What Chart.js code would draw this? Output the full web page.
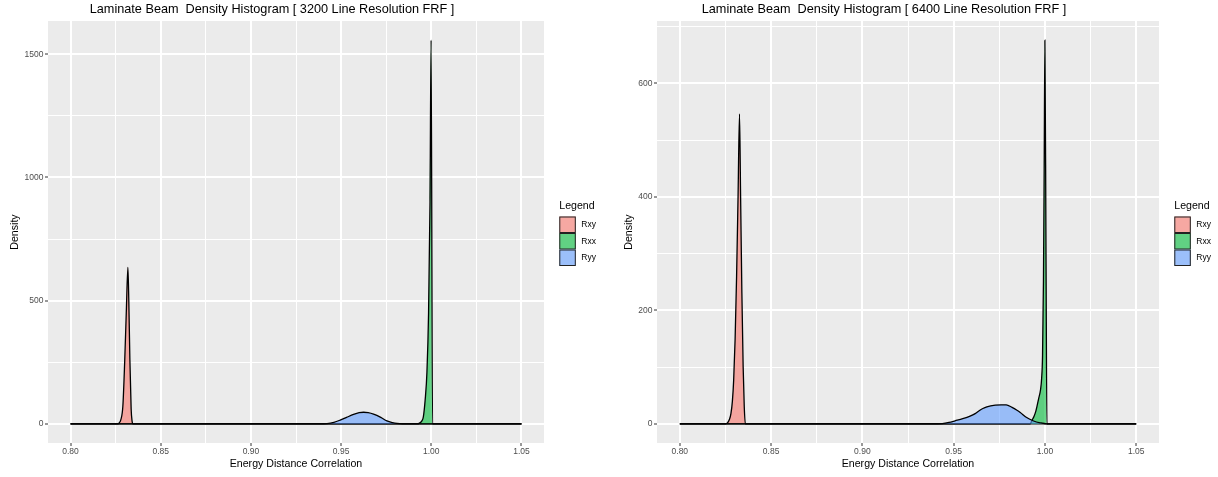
<!DOCTYPE html>
<html>
<head>
<meta charset="utf-8">
<script src="https://cdn.jsdelivr.net/npm/chart.js@4.4.1/dist/chart.umd.min.js"></script>
<style>
  html, body { margin: 0; padding: 0; background: #ffffff; }
  #wrap { position: relative; width: 1218px; height: 477px; }
  canvas { position: absolute; top: 0; }
</style>
</head>
<body>
<div id="wrap">
  <canvas id="density-3200" width="609" height="477" style="left:0px"></canvas>
  <canvas id="density-6400" width="609" height="477" style="left:609px"></canvas>
</div>
<script>
// Series names (legend order)
const seriesNames = ['Rxy', 'Rxx', 'Ryy'];

// Tick values
const xMajor = [0.80, 0.85, 0.90, 0.95, 1.00, 1.05];
const xMinor = [0.825, 0.875, 0.925, 0.975, 1.025];
const yMajor3200 = [0, 500, 1000, 1500];
const yMinor3200 = [250, 750, 1250];
const yMajor6400 = [0, 200, 400, 600];
const yMinor6400 = [100, 300, 500, 700];

// 3200 line resolution densities
const rxy3200X = [0.800, 0.8262, 0.8270, 0.8279, 0.8290, 0.8300, 0.8309, 0.8318, 0.8323, 0.8329, 0.8336, 0.8341, 0.8346, 1.050];
const rxy3200Y = [0, 0, 4, 17, 71, 248, 451, 635, 500, 260, 60, 12, 0, 0];
const rxx3200X = [0.800, 0.9920, 0.9935, 0.9948, 0.9956, 0.9966, 0.9976, 0.9985, 0.9993, 0.9999, 1.0007, 1.050];
const rxx3200Y = [0, 0, 3, 12, 28, 96, 210, 450, 900, 1557, 0, 0];
const ryy3200X = [0.800, 0.9380, 0.9422, 0.9460, 0.9495, 0.9530, 0.9569, 0.9600, 0.9625, 0.9650, 0.9680, 0.9720, 0.9754, 0.9785, 0.9810, 0.9840, 1.050];
const ryy3200Y = [0, 0, 1, 6, 15, 26, 38, 45, 47, 45, 39, 26, 12, 5, 1.5, 0, 0];

// 6400 line resolution densities
const rxy6400X = [0.800, 0.8250, 0.8262, 0.8272, 0.8280, 0.8288, 0.8295, 0.8303, 0.8311, 0.8319, 0.8327, 0.8333, 0.8340, 0.8347, 0.8353, 0.8359, 1.050];
const rxy6400Y = [0, 0, 2, 8, 18, 40, 77, 150, 260, 400, 546, 400, 230, 100, 30, 0, 0];
const rxx6400X = [0.800, 0.9920, 0.9929, 0.9940, 0.9950, 0.9956, 0.9966, 0.9976, 0.9982, 0.9987, 0.9992, 0.9996, 1.0000, 1.0006, 1.0011, 1.050];
const rxx6400Y = [0, 0, 6, 13, 22, 30, 45, 60, 80, 120, 250, 450, 676, 300, 0, 0];
const ryy6400X = [0.800, 0.9380, 0.9438, 0.9475, 0.9508, 0.9550, 0.9590, 0.9618, 0.9640, 0.9660, 0.9682, 0.9728, 0.9760, 0.9788, 0.9820, 0.9847, 0.9865, 0.9900, 0.9938, 0.9974, 1.0010, 1.050];
const ryy6400Y = [0, 0, 0.5, 2.5, 5.3, 9, 13.5, 18, 23, 27, 30, 33, 33.5, 33.5, 29, 24, 20, 11, 5, 1.8, 0, 0];

const fillColors = ['rgba(248,118,109,0.6)', 'rgba(0,186,56,0.6)', 'rgba(97,156,255,0.6)'];
const fontFamily = "'Liberation Sans', Arial, sans-serif";

function isIn(list, v) {
    return list.some(m => Math.abs(m - v) < 1e-9);
}

// grey panel + ggplot style legend
const ggPanel = {
    id: 'ggPanel',
    beforeDraw(chart) {
        const a = chart.chartArea;
        const ctx = chart.ctx;
        ctx.save();
        ctx.fillStyle = '#EBEBEB';
        ctx.fillRect(a.left, a.top, a.right - a.left, a.bottom - a.top);
        ctx.restore();
    },
    afterDraw(chart) {
        const ctx = chart.ctx;
        const left = chart.chartArea.right + 15.3;
        const keySize = 16.5;
        const keyTop = 216.5;
        ctx.save();
        ctx.fillStyle = '#000000';
        ctx.textBaseline = 'middle';
        ctx.textAlign = 'left';
        ctx.font = '10.6px ' + fontFamily;
        ctx.fillText('Legend', left, 205.7);
        chart.data.datasets.forEach((ds, i) => {
            const top = keyTop + i * keySize;
            ctx.fillStyle = '#F2F2F2';
            ctx.fillRect(left, top, keySize, keySize);
            ctx.fillStyle = ds.backgroundColor;
            ctx.fillRect(left, top, keySize, keySize);
            ctx.strokeStyle = '#222222';
            ctx.lineWidth = 1;
            ctx.strokeRect(left + 0.5, top + 0.5, keySize - 1, keySize - 1);
            ctx.fillStyle = '#000000';
            ctx.font = '8.5px ' + fontFamily;
            ctx.fillText(ds.label, left + 22, top + keySize / 2);
        });
        ctx.restore();
    }
};

function densityChart(title, seriesX, seriesY, yMajor, yMinor, rightPad, yTitlePad) {
    const yTop = Math.max(...[].concat(...seriesY));
    const allX = [].concat(...seriesX);
    const xLo = Math.min(...allX);
    const xHi = Math.max(...allX);
    const xPad = (xHi - xLo) * 0.05;

    const datasets = seriesNames.map((name, i) => ({
        label: name,
        data: seriesX[i].map((x, j) => ({ x: x, y: seriesY[i][j] })),
        backgroundColor: fillColors[i],
        borderColor: '#000000',
        borderWidth: 1.3,
        pointRadius: 0,
        fill: 'origin',
        cubicInterpolationMode: 'monotone',
        order: seriesNames.length - i
    }));

    const xTicks = xMajor.concat(xMinor).sort((a, b) => a - b);
    const yTicks = yMajor.concat(yMinor).sort((a, b) => a - b);

    return {
        type: 'line',
        data: { datasets: datasets },
        options: {
            responsive: false,
            animation: false,
            events: [],
            layout: { padding: { left: 0, right: rightPad, top: 0, bottom: 0 } },
            scales: {
                x: {
                    type: 'linear',
                    min: xLo - xPad,
                    max: xHi + xPad,
                    afterBuildTicks: scale => { scale.ticks = xTicks.map(v => ({ value: v })); },
                    afterFit: scale => { scale.height = 34; },
                    border: { display: false },
                    grid: {
                        color: '#FFFFFF',
                        lineWidth: c => isIn(xMajor, c.tick.value) ? 2 : 1,
                        drawTicks: true,
                        tickLength: 3,
                        tickWidth: 1,
                        tickColor: c => isIn(xMajor, c.tick.value) ? '#333333' : 'rgba(0,0,0,0)'
                    },
                    ticks: {
                        color: '#4D4D4D',
                        font: { family: fontFamily, size: 8.5 },
                        padding: 1,
                        autoSkip: false,
                        maxRotation: 0,
                        minRotation: 0,
                        callback: v => isIn(xMajor, v) ? v.toFixed(2) : ''
                    },
                    title: {
                        display: true,
                        text: 'Energy Distance Correlation',
                        color: '#000000',
                        font: { family: fontFamily, size: 10.6 },
                        padding: { top: 0, bottom: 7 }
                    }
                },
                y: {
                    type: 'linear',
                    min: -0.05 * yTop,
                    max: 1.05 * yTop,
                    afterBuildTicks: scale => { scale.ticks = yTicks.map(v => ({ value: v })); },
                    afterFit: scale => { scale.width = 48; },
                    border: { display: false },
                    grid: {
                        color: '#FFFFFF',
                        lineWidth: c => isIn(yMajor, c.tick.value) ? 2 : 1,
                        drawTicks: true,
                        tickLength: 3,
                        tickWidth: 1,
                        tickColor: c => isIn(yMajor, c.tick.value) ? '#333333' : 'rgba(0,0,0,0)'
                    },
                    ticks: {
                        color: '#4D4D4D',
                        font: { family: fontFamily, size: 8.5 },
                        padding: 1.5,
                        autoSkip: false,
                        callback: v => isIn(yMajor, v) ? String(v) : ''
                    },
                    title: {
                        display: true,
                        text: 'Density',
                        color: '#000000',
                        font: { family: fontFamily, size: 10.6 },
                        padding: { top: yTitlePad, bottom: 0 }
                    }
                }
            },
            plugins: {
                legend: { display: false },
                tooltip: { enabled: false },
                title: {
                    display: true,
                    text: title,
                    color: '#000000',
                    font: { family: fontFamily, size: 12.7, weight: 'normal' },
                    padding: { top: 2, bottom: 3.8 }
                }
            }
        },
        plugins: [ggPanel]
    };
}

const ctx3200 = document.getElementById('density-3200');
new Chart(ctx3200, densityChart(
    'Laminate Beam  Density Histogram [ 3200 Line Resolution FRF ]',
    [rxy3200X, rxx3200X, ryy3200X],
    [rxy3200Y, rxx3200Y, ryy3200Y],
    yMajor3200, yMinor3200, 65, 9));

const ctx6400 = document.getElementById('density-6400');
new Chart(ctx6400, densityChart(
    'Laminate Beam  Density Histogram [ 6400 Line Resolution FRF ]',
    [rxy6400X, rxx6400X, ryy6400X],
    [rxy6400Y, rxx6400Y, ryy6400Y],
    yMajor6400, yMinor6400, 59, 14));
</script>
</body>
</html>
